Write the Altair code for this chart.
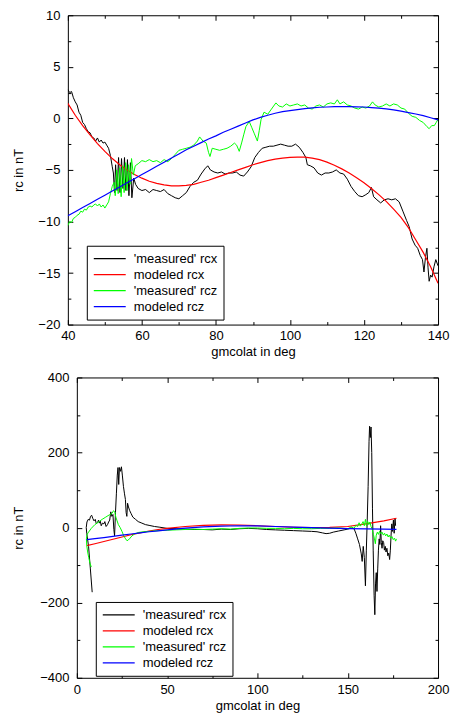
import altair as alt
import pandas as pd

SERIES = ["'measured' rcx", "modeled rcx", "'measured' rcz", "modeled rcz"]
COLORS = ["#000000", "#ff0000", "#00ff00", "#0000ff"]
WIDTHS = [1.0, 1.2, 1.0, 1.2]
FONT = "Liberation Sans"

# ---------------- top panel (gmcolat 40..140) ----------------
top_mrcx_x = [40.0, 40.5, 41.0, 41.5, 42.0, 42.5, 43.0, 43.5, 44.0, 44.5, 45.0, 45.5, 46.0, 46.5, 47.0,
              47.5, 48.0, 48.5, 49.0, 49.5, 50.0, 50.5, 51.0, 51.5, 52.0, 52.3, 52.6, 52.9, 53.3, 53.7,
              54.1, 54.5, 54.9, 55.3, 55.7, 56.1, 56.5, 56.9, 57.3, 57.8, 58.3, 59.0, 60.0, 61.0, 62.0,
              63.0, 64.0, 65.0, 66.0, 67.0, 68.0, 69.0, 70.0, 71.0, 72.0, 73.0, 74.0, 75.0, 76.0, 77.0,
              77.8, 78.5, 79.5, 80.5, 81.5, 82.5, 83.5, 84.5, 85.5, 86.5, 87.5, 88.5, 89.5, 90.5, 91.5,
              92.5, 93.5, 94.5, 95.5, 96.5, 97.5, 98.5, 99.5, 100.5, 101.5, 102.5, 103.5, 104.3, 104.7, 105.5,
              106.5, 107.5, 108.5, 109.5, 110.5, 111.5, 112.5, 113.5, 114.5, 115.5, 116.5, 117.5, 118.5, 119.5, 120.5,
              121.3, 122.0, 122.6, 123.5, 124.5, 125.5, 126.5, 127.5, 128.5, 129.5, 130.5, 131.5, 132.2, 133.0, 133.8,
              134.5, 135.2, 135.8, 136.2, 136.6, 137.0, 137.3, 137.6, 138.0, 138.4, 138.9, 139.4, 140.0]
top_mrcx_y = [2.8, 2.5, 2.6, 2.0, 1.6, 1.3, 0.6, 0.3, -0.4, -0.6, -1.0, -1.3, -1.4, -1.8, -1.9,
              -2.2, -1.9, -2.3, -2.1, -2.4, -2.3, -2.6, -2.9, -3.6, -4.7, -5.3, -7.2, -4.5, -7.0, -3.8,
              -7.2, -3.9, -6.8, -3.8, -7.0, -4.0, -7.5, -4.3, -7.7, -5.8, -6.4, -6.8, -7.0, -6.9, -7.2,
              -6.9, -7.0, -7.1, -6.9, -7.3, -7.5, -7.7, -7.8, -7.5, -7.2, -6.6, -6.2, -6.0, -5.4, -4.9,
              -4.6, -5.0, -5.2, -5.3, -5.2, -5.4, -5.3, -5.3, -5.2, -5.5, -5.6, -5.2, -4.7, -3.8, -3.3,
              -2.9, -2.8, -2.7, -2.7, -2.6, -2.5, -2.6, -2.7, -2.7, -2.5, -2.8, -3.3, -3.8, -4.5, -4.6,
              -4.8, -5.3, -5.5, -5.3, -5.3, -5.2, -5.0, -5.3, -5.4, -5.9, -6.6, -7.1, -7.5, -7.6, -7.4,
              -7.2, -6.7, -7.6, -7.9, -8.2, -7.9, -7.8, -7.9, -7.8, -8.1, -9.0, -9.9, -10.5, -11.7, -12.3,
              -12.6, -13.3, -13.7, -14.9, -13.5, -12.6, -14.5, -15.8, -15.2, -15.4, -14.4, -13.7, -14.3]

top_model_x = [40, 42, 44, 46, 48, 50, 52, 54, 56, 58, 60, 62, 64, 66, 68, 70, 72, 74, 76, 78, 80,
               82, 84, 86, 88, 90, 92, 94, 96, 98, 100, 102, 104, 106, 108, 110, 112, 114, 116, 118, 120,
               122, 124, 126, 128, 130, 132, 134, 136, 138, 140]
top_mod_rcx = [1.45, 0.3, -0.7, -1.6, -2.45, -3.2, -3.9, -4.5, -5.0, -5.45, -5.8, -6.1, -6.3, -6.45, -6.55,
               -6.55, -6.5, -6.4, -6.2, -6.0, -5.75, -5.5, -5.25, -5.0, -4.75, -4.5, -4.3, -4.1, -3.95, -3.85,
               -3.78, -3.75, -3.76, -3.85, -4.0, -4.25, -4.55, -4.9, -5.3, -5.75, -6.25, -6.8, -7.4, -8.05, -8.8,
               -9.6, -10.6, -11.8, -13.0, -14.4, -16.0]
top_mod_rcz = [-9.45, -9.05, -8.65, -8.25, -7.85, -7.45, -7.05, -6.65, -6.25, -5.85, -5.45, -5.05, -4.65, -4.25,
               -3.85, -3.45, -3.05, -2.7, -2.35, -2.0, -1.7, -1.35, -1.05, -0.75, -0.45, -0.15, 0.1, 0.3, 0.5,
               0.65, 0.75, 0.85, 0.95, 1.02, 1.08, 1.1, 1.13, 1.14, 1.13, 1.12, 1.1, 1.05, 1.0, 0.92, 0.82,
               0.7, 0.56, 0.42, 0.26, 0.06, -0.15]

top_mrcz_x = [40.0, 40.5, 41.0, 41.5, 42.0, 42.5, 43.0, 43.5, 44.0, 44.5, 45.0, 45.5, 46.0, 46.5, 47.0,
              47.5, 48.0, 48.5, 49.0, 49.5, 50.0, 50.5, 51.0, 51.5, 52.0, 52.5, 52.8, 53.2, 53.6, 54.0,
              54.4, 54.8, 55.2, 55.6, 56.0, 56.4, 56.8, 57.2, 57.7, 58.2, 59.0, 60.0, 61.0, 62.0, 63.0,
              64.0, 65.0, 66.0, 67.0, 68.0, 69.0, 70.0, 71.0, 72.0, 73.0, 74.0, 75.0, 75.6, 76.5, 77.4,
              78.0, 78.4, 79.0, 80.0, 81.0, 82.0, 83.0, 84.0, 85.0, 85.6, 86.3, 87.0, 87.5, 88.1, 89.0,
              89.7, 90.4, 91.2, 91.7, 92.2, 93.0, 94.0, 95.0, 96.2, 97.0, 98.0, 99.0, 100.0, 101.0, 102.0,
              103.0, 104.0, 105.0, 106.0, 107.0, 108.0, 109.0, 110.0, 111.0, 112.0, 112.8, 113.5, 114.5, 115.5, 116.5,
              117.5, 118.5, 119.5, 120.5, 121.5, 122.3, 123.0, 124.0, 125.0, 126.0, 127.0, 128.0, 129.0, 130.0, 131.0,
              132.0, 133.0, 134.0, 135.0, 136.0, 137.0, 137.6, 138.3, 139.0, 139.5, 140.0]
top_mrcz_y = [-10.4, -10.0, -10.1, -9.7, -9.6, -9.4, -9.3, -9.0, -9.1, -8.8, -8.9, -8.6, -8.5, -8.6, -8.4,
              -8.3, -8.5, -8.3, -8.6, -8.4, -8.7, -8.4, -8.1, -7.3, -6.6, -6.2, -7.5, -5.0, -7.3, -4.8,
              -7.6, -4.6, -7.2, -4.3, -7.0, -4.5, -6.4, -3.9, -5.5, -4.6, -4.4, -4.1, -4.2, -4.0, -4.2,
              -4.1, -4.3, -4.0, -4.2, -3.9, -3.5, -3.1, -3.0, -2.9, -2.8, -2.6, -2.2, -1.8, -2.2, -2.4,
              -3.3, -3.7, -2.9, -3.0, -3.1, -3.0, -2.9, -2.7, -2.4, -2.6, -3.2, -2.3, -1.6, -0.8, -0.3,
              -0.9, -1.5, -2.2, -1.2, -0.1, 0.6, 0.4, 0.9, 1.5, 1.2, 1.1, 1.4, 1.2, 1.3, 1.4,
              1.2, 1.3, 1.0, 0.9, 1.2, 1.3, 1.1, 1.4, 1.5, 1.4, 1.8, 1.4, 1.6, 1.3, 1.2,
              1.0, 0.9, 1.1, 1.0, 1.2, 1.6, 1.3, 1.1, 1.2, 1.4, 1.2, 1.4, 1.3, 1.0, 0.9,
              0.5, 0.2, 0.1, -0.2, -0.4, -0.8, -1.0, -0.7, -0.7, -0.4, -0.1]

# ---------------- bottom panel (gmcolat 0..200) ----------------
bot_mrcx_x = [8.5, 7.5, 6.5, 5.5, 5.2, 5.6, 6.3, 7.0, 7.6, 8.2, 8.8, 9.5, 10.2, 10.8, 11.5, 12.0, 12.5,
              13.0, 13.5, 14.2, 15.0, 15.5, 16.2, 17.0, 17.6, 18.2, 18.8, 19.4, 20.0, 20.5, 20.9, 21.4,
              21.9, 22.4, 22.8, 23.2, 23.6, 24.2, 24.7, 25.2, 25.8, 26.4, 26.9, 27.3, 27.7, 28.1, 28.6,
              29.3, 30.0, 31.0, 32.5, 34.0, 36.0, 38.0, 40.0, 43.0, 46.0, 50.0, 55.0, 60.0, 65.0, 70.0,
              75.0, 80.0, 85.0, 90.0, 95.0, 100.0, 105.0, 110.0, 115.0, 120.0, 125.0, 130.0, 133.0, 136.0,
              138.0, 140.0, 142.0, 145.0, 148.0, 150.0, 152.0, 153.5, 154.5, 155.5, 156.5, 157.5, 158.0,
              158.6, 159.2, 159.8, 160.3, 160.8, 161.3, 161.8, 162.1, 162.5, 162.9, 163.3, 163.7, 164.1,
              164.6, 165.0, 165.4, 165.8, 166.2, 166.6, 167.0, 167.4, 167.8, 168.2, 168.6, 169.0, 169.4,
              169.9, 170.3, 170.8, 171.2, 171.7, 172.2, 172.7, 173.2, 173.6, 174.0, 174.4, 174.8, 175.3,
              175.7, 176.2, 176.5]
bot_mrcx_y = [-172, -110, -50, -15, 0, 15, 22, 20, 30, 33, 25, 18, 22, 10, 14, 20, 12,
              17, 5, 12, 10, 16, 3, 8, 15, 20, 42, 30, 35, -5, -22, 40,
              90, 140, 160, 115, 160, 150, 162, 140, 110, 90, 75, 40, 30, 65, 55,
              45, 38, 28, 22, 16, 12, 8, 6, 3, 1, -2, -3, -4, -5, -5,
              -6, -4, -5, -3, -2, -3, -5, -6, -7, -8, -9, -10, -11, -14,
              -16, -15, -12, -9, -6, -4, -1, -3, -15, -30, -45, -70, -90,
              -50, -80, -155, -60, 20, 110, 230, 270, 240, 268, 200, 50, -60,
              -180, -232, -150, -120, -170, -110, -60, -30, -45, 5, -40, -55, -35,
              -40, -60, -50, -65, -55, -75, -68, -85, -60, -20, 10, -10, 20,
              -15, 25, 5]

bot_model_x = [5.5, 10, 15, 20, 25, 30, 35, 40, 45, 50, 60, 70, 80, 90, 100, 110, 120, 130, 140,
               150, 160, 170, 177]
bot_mod_rcx = [-48, -43, -37, -31, -25, -19, -14, -9, -5, -2, 3, 6, 7.5, 7, 5, 3, 1, 0, 0.5,
               3, 10, 18, 25]
bot_mod_rcz = [-32, -29.5, -26.5, -23.5, -20, -17, -14, -11, -8.5, -6, -1.5, 2, 4, 5, 4.5, 3, 1.5, 0, -1.5,
               -2.5, -3.5, -4, -4.5]

bot_mrcz_x = [8.0, 7.3, 6.6, 6.0, 5.5, 5.3, 5.7, 6.5, 8.0, 10.0, 12.0, 14.0, 16.0, 18.0, 19.5, 20.3,
              21.0, 21.6, 22.3, 23.0, 24.0, 25.0, 26.0, 27.0, 27.8, 28.5, 29.5, 30.5, 32.0, 34.0, 37.0,
              40.0, 45.0, 50.0, 55.0, 60.0, 65.0, 70.0, 75.0, 80.0, 85.0, 90.0, 95.0, 100.0, 105.0, 110.0,
              115.0, 120.0, 125.0, 130.0, 135.0, 140.0, 145.0, 150.0, 152.0, 153.5, 154.5, 155.5, 156.3,
              157.0, 157.8, 158.5, 159.2, 159.8, 160.4, 161.0, 161.7, 162.3, 162.9, 163.5, 164.2, 164.8,
              165.3, 165.8, 166.4, 167.0, 167.6, 168.3, 169.0, 169.7, 170.4, 171.0, 171.7, 172.4, 173.0,
              173.8, 174.5, 175.2, 175.9, 176.5, 177.0]
bot_mrcz_y = [-105, -95, -80, -65, -48, -30, -18, -12, -2, 8, 15, 22, 28, 34, 38, 45,
              42, 28, 18, 8, 0, -10, -22, -30, -35, -33, -28, -22, -17, -13, -11,
              -10, -8, -7, -6, -5, -4, -5, -4, -3, -4, -2, -1, -1, -2, -2,
              -3, -2, -3, -3, -2, -2, -1, -3, 2, -2, 6, 3, 13,
              4, 10, 16, 5, 22, 4, 17, 8, 15, 3, -3, -18, -30,
              -43, -20, -12, -18, -10, -16, -12, -20, -15, -22, -17, -25, -20,
              -28, -24, -32, -28, -36, -30]

# axis tick values
top_x_major = [40, 60, 80, 100, 120, 140]
top_x_minor = [50, 70, 90, 110, 130]
top_y_major = [-20, -15, -10, -5, 0, 5, 10]
top_y_minor = [-17.5, -12.5, -7.5, -2.5, 2.5, 7.5]
bot_x_major = [0, 50, 100, 150, 200]
bot_x_minor = [25, 75, 125, 175]
bot_y_major = [-400, -200, 0, 200, 400]
bot_y_minor = [-300, -100, 100, 300]


def make_df(parts):
    rows = []
    for k, (xs, ys) in enumerate(parts):
        for i, (a, b) in enumerate(zip(xs, ys)):
            rows.append({"k": k, "series": SERIES[k], "x": a, "y": b, "i": i})
    return pd.DataFrame(rows)


def ax(orient, offset, values=None, size=None, labels=False, domain=False, ticks=True, **kw):
    args = dict(orient=orient, offset=offset, grid=False, domain=domain, ticks=ticks, labels=labels,
                labelFlush=False, labelOverlap=False, tickColor="black", domainColor="black",
                tickWidth=1, domainWidth=1, labelFont=FONT, titleFont=FONT, labelFontSize=13,
                titleFontSize=13, labelColor="black", titleColor="black", titleFontWeight="normal")
    if values is not None:
        args["values"] = values
    if size is not None:
        args["tickSize"] = size
    if "title" not in kw:
        kw["title"] = None
    args.update(kw)
    return alt.Axis(**args)


def panel(df, xdom, ydom, xmaj, xmin_, ymaj, ymin_, w, h, inset, lx, ly, ytp, xtp, lpad):
    xsc = alt.Scale(domain=xdom, nice=False, zero=False, range=[inset, w])
    ysc = alt.Scale(domain=ydom, nice=False, zero=False)
    leg = alt.Legend(orient="none", legendX=lx, legendY=ly, title=None, symbolType="stroke",
                     symbolSize=1024, symbolStrokeWidth=1.2, clipHeight=14, rowPadding=2,
                     labelOffset=7, padding=6, strokeColor="black", fillColor="white",
                     labelFontSize=13, labelFont=FONT, labelColor="black", cornerRadius=0)
    col = alt.Color("series:N", scale=alt.Scale(domain=SERIES, range=COLORS), legend=leg)
    xaxes = [
        ax("bottom", -5, xmaj, 5, labels=True, labelPadding=lpad, title="gmcolat in deg", titlePadding=xtp),
        ax("bottom", -3, xmin_, 3),
        ax("top", -5, xmaj, 5),
        ax("top", -3, xmin_, 3),
    ]
    yaxes = [
        ax("left", -(inset + 5), ymaj, 5, labels=True, labelPadding=8, title="rc in nT", titlePadding=ytp),
        ax("left", -(inset + 3), ymin_, 3),
        ax("right", -5, ymaj, 5),
        ax("right", -3, ymin_, 3),
    ]
    layers = []
    for k in range(4):
        layers.append(
            alt.Chart(df).transform_filter(alt.datum.k == k)
            .mark_line(strokeWidth=WIDTHS[k], clip=True)
            .encode(x=alt.X("x:Q", scale=xsc, axis=xaxes[k]),
                    y=alt.Y("y:Q", scale=ysc, axis=yaxes[k]),
                    color=col, order=alt.Order("i:Q"))
        )
    frames = [
        (ax("bottom", 0, domain=True, ticks=False), ax("left", -inset, domain=True, ticks=False)),
        (ax("top", 0, domain=True, ticks=False), ax("right", 0, domain=True, ticks=False)),
    ]
    for xa, ya in frames:
        layers.append(
            alt.Chart(df).mark_line(strokeOpacity=0)
            .encode(x=alt.X("x:Q", scale=xsc, axis=xa), y=alt.Y("y:Q", scale=ysc, axis=ya),
                    detail="series:N")
        )
    return alt.layer(*layers).resolve_axis(x="independent", y="independent").properties(width=w, height=h)


top_df = make_df([(top_mrcx_x, top_mrcx_y), (top_model_x, top_mod_rcx),
                  (top_mrcz_x, top_mrcz_y), (top_model_x, top_mod_rcz)])
bot_df = make_df([(bot_mrcx_x, bot_mrcx_y), (bot_model_x, bot_mod_rcx),
                  (bot_mrcz_x, bot_mrcz_y), (bot_model_x, bot_mod_rcz)])

top = panel(top_df, [40, 140], [-20, 10], top_x_major, top_x_minor, top_y_major, top_y_minor,
            371, 310, 0, 19, 231, 12, 3, 5)
bottom = panel(bot_df, [0, 200], [-400, 400], bot_x_major, bot_x_minor, bot_y_major, bot_y_minor,
               371, 301, 9, 28, 225, 14, 3, 6)

chart = (
    alt.vconcat(top, bottom, spacing=11)
    .resolve_scale(color="independent")
    .properties(padding={"left": 12, "top": 7.5, "right": 0, "bottom": 0})
    .configure_view(stroke="transparent")
)

chart.save("out.html", embed_options={"renderer": "svg", "actions": False})
